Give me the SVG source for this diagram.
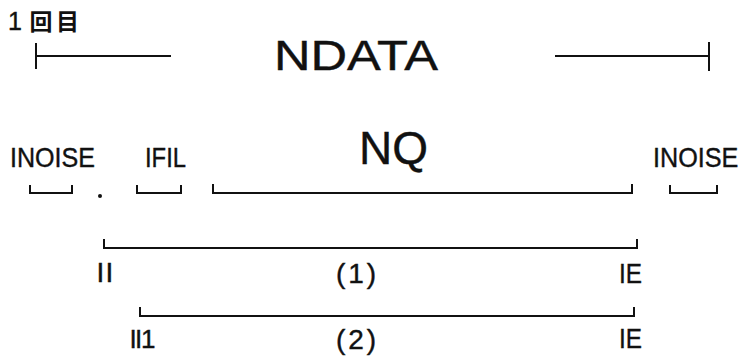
<svg xmlns="http://www.w3.org/2000/svg" width="742" height="357" viewBox="0 0 742 357">
<style>
.l{fill:none;stroke:#111;stroke-width:2;stroke-linecap:square}
.t{font-family:"Liberation Sans",Arial,sans-serif;fill:#111;stroke:#111;stroke-width:0.4}
.j{font-family:"Noto Sans CJK JP",sans-serif;fill:#111;font-size:23px;font-weight:bold}
</style>
<rect width="742" height="357" fill="#fff"/>
<g id="title"><text class="t" x="8" y="30" font-size="25">1</text><text class="j" x="29.5 56" y="30">回目</text></g>
<g id="ndata">
<text class="t" x="274" y="70" font-size="42" textLength="164" lengthAdjust="spacingAndGlyphs">NDATA</text>
</g>
<g id="inoise-left"><text class="t" x="10" y="167" font-size="28" textLength="85" lengthAdjust="spacingAndGlyphs">INOISE</text></g>
<g id="ifil"><text class="t" x="145" y="167" font-size="28" textLength="41" lengthAdjust="spacingAndGlyphs">IFIL</text></g>
<g id="nq"><text class="t" x="359" y="164" font-size="46">NQ</text></g>
<g id="inoise-right"><text class="t" transform="translate(653 167) scale(0.9 1)" x="0" y="0" font-size="28">INOISE</text></g>
<g id="dot"><circle cx="100" cy="196" r="2" fill="#111"/></g>
<g id="label-1">
<text class="t" x="96.5 105.5" y="282" font-size="28">II</text>
<text class="t" x="336" y="283" font-size="28" textLength="40" lengthAdjust="spacing">(1)</text>
<text class="t" x="619" y="283" font-size="28" textLength="23" lengthAdjust="spacingAndGlyphs">IE</text>
</g>
<g id="label-2">
<text class="t" x="129.5 135 141" y="348" font-size="26">II1</text>
<text class="t" x="336" y="349" font-size="28" textLength="40" lengthAdjust="spacing">(2)</text>
<text class="t" x="619" y="348" font-size="28" textLength="23" lengthAdjust="spacingAndGlyphs">IE</text>
</g>
<g id="connectors">
<path class="l" d="M36 44V68M36 56H170"/>
<path class="l" d="M556 56H709M709 43V70"/>
<path class="l" d="M30 186V193H72V186"/>
<path class="l" d="M137 186V193H181V186"/>
<path class="l" d="M213 185V193H632V185"/>
<path class="l" d="M670 186V193H717V186"/>
<path class="l" d="M104 240V248H637V240"/>
<path class="l" d="M140 308V316H634V308"/>
</g>
</svg>
